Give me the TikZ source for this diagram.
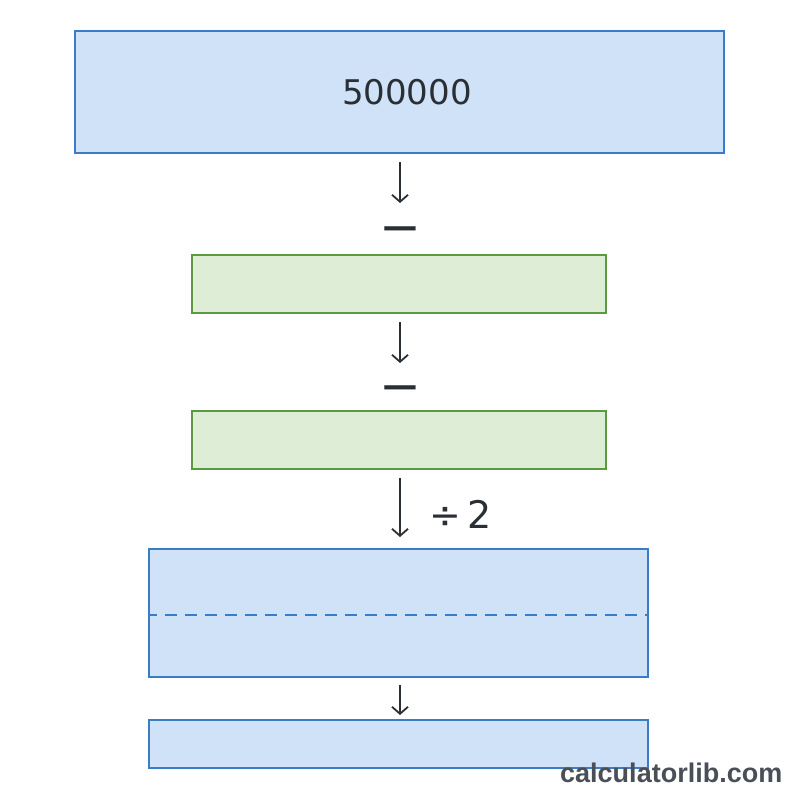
\documentclass[tikz,border=0pt]{standalone}
\usepackage{fontspec}
\setmainfont{DejaVu Sans}
\newfontfamily\wmfont{Liberation Sans}
\usetikzlibrary{arrows.meta}
\definecolor{bfill}{HTML}{CFE2F8}
\definecolor{bline}{HTML}{3A7CC6}
\definecolor{gfill}{HTML}{DDEDD6}
\definecolor{gline}{HTML}{5C9A40}
\definecolor{ink}{HTML}{2A2F36}
\definecolor{wm}{HTML}{4A4F57}
\tikzset{
  bluebox/.style={draw=bline, fill=bfill, line width=2pt, inner sep=0pt, outer sep=0pt},
  greenbox/.style={draw=gline, fill=gfill, line width=2pt, inner sep=0pt, outer sep=0pt},
  arr/.style={draw=ink, line width=1.8pt, -{Straight Barb[length=7pt,width=16pt,line width=1.8pt]}},
  minus/.style={text=ink, inner sep=0pt, outer sep=0pt, font=\fontsize{50}{50}\selectfont},
}
\begin{document}
\begin{tikzpicture}[x=1pt,y=-1pt]
\useasboundingbox[fill=white] (0,0) rectangle (800,800);
\node[bluebox, minimum width=649pt, minimum height=122pt] (b1) at (399.5,92) {};
\node[text=ink, inner sep=0pt, font=\fontsize{34}{34}\selectfont] (t1) at ([xshift=7.5pt]b1.center) {500000};
\node[minus] (m1) at (400,236) {−};
\node[greenbox, minimum width=414pt, minimum height=58pt] (b2) at (399,284) {};
\node[minus] (m2) at (400,395) {−};
\node[greenbox, minimum width=414pt, minimum height=58pt] (b3) at (399,440) {};
\node[text=ink, anchor=west, inner sep=0pt, font=\fontsize{38}{38}\selectfont] (d2) at (429,514) {÷\,2};
\node[bluebox, minimum width=499pt, minimum height=128pt] (b4) at (398.5,613) {};
\node[bluebox, minimum width=499pt, minimum height=48pt] (b5) at (398.5,744) {};
\draw[draw=bline, line width=2pt, dash pattern=on 12pt off 8pt, dash phase=4pt] (b4.west |- 0,615) coordinate (dl) -- (b4.east |- 0,615) coordinate (dr);
\draw[arr] ([yshift=-9pt]b1.south -| 400,0) -- (400,203) coordinate (a1);
\draw[arr] ([yshift=-9pt]b2.south -| 400,0) -- (400,363) coordinate (a2);
\draw[arr] ([yshift=-9pt]b3.south -| 400,0) -- ([yshift=12pt]b4.north -| 400,0);
\draw[arr] ([yshift=-8pt]b4.south -| 400,0) -- ([yshift=5pt]b5.north -| 400,0);
\node[text=wm, anchor=west, inner sep=0pt, font=\wmfont\bfseries\fontsize{27}{27}\selectfont] (wm) at (560,773) {calculatorlib.com};
\end{tikzpicture}
\end{document}
